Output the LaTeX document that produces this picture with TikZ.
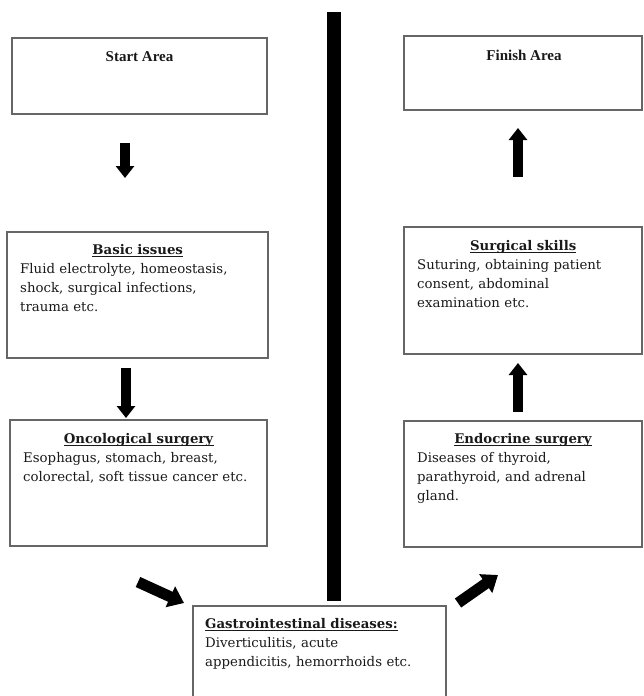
\documentclass[tikz,border=0pt]{standalone}
\usepackage{fontspec}
\setmainfont{DejaVu Serif}
\newfontfamily\timesfont{Liberation Serif}
\usepackage{tikz}
\usetikzlibrary{arrows.meta}
\tikzstyle{areabox}=[draw=black!60, line width=1.3pt, inner sep=0pt]
\tikzstyle{areatitle}=[font=\timesfont\bfseries\fontsize{15}{18}\selectfont, text=black!90]
\tikzstyle{topic}=[anchor=north west, inner sep=0pt, align=left, font=\fontsize{13.3}{19}\selectfont, text=black!90]
\tikzstyle{fatarrow}=[line width=10pt, -{Triangle[length=12pt,width=18pt]}]
\tikzstyle{slantarrow}=[line width=11pt, -{Triangle[length=15pt,width=22pt]}]
\newcommand{\topicline}[1]{\setbox0\hbox{\textbf{#1}}\rlap{\rule[-2pt]{\wd0}{0.8pt}}\box0}
\newcommand{\topichead}[1]{\makebox[\hsize]{\topicline{#1}}}

\begin{document}
\begin{tikzpicture}[x=1pt,y=-1pt]
\useasboundingbox (0,0) rectangle (643,696);
% divider
\fill[black] (327,12) rectangle (341,601);
% boxes
\node[areabox, minimum width=255, minimum height=76] (start) at (139.5,76) {};
\node[areabox, minimum width=238, minimum height=74] (finish) at (523,73) {};
\node[areabox, minimum width=261, minimum height=126] (basic) at (137.5,295) {};
\node[areabox, minimum width=257, minimum height=126] (onco) at (138.5,483) {};
\node[areabox, minimum width=238, minimum height=127] (skills) at (523,290.5) {};
\node[areabox, minimum width=238, minimum height=126] (endo) at (523,484) {};
\node[areabox, minimum width=253, minimum height=98] (gastro) at (319.5,655) {};
% texts
\node[areatitle] (starttext) at (139.5,57) {Start Area};
\node[areatitle] (finishtext) at (524,55) {Finish Area};
\node[topic, text width=235] (basictext) at (20,244) {\topichead{Basic issues}\\
Fluid electrolyte, homeostasis,\\ shock, surgical infections,\\ trauma etc.};
\node[topic, text width=231] (oncotext) at (23,433) {\topichead{Oncological surgery}\\
Esophagus, stomach, breast,\\ colorectal, soft tissue cancer etc.};
\node[topic, text width=212] (skillstext) at (417,240) {\topichead{Surgical skills}\\
Suturing, obtaining patient\\ consent, abdominal\\ examination etc.};
\node[topic, text width=212] (endotext) at (417,433) {\topichead{Endocrine surgery}\\
Diseases of thyroid,\\ parathyroid, and adrenal\\ gland.};
\node[topic, text width=230] (gastrotext) at (205,618) {\topicline{Gastrointestinal diseases:}\\
Diverticulitis, acute\\ appendicitis, hemorrhoids etc.};
% arrows
\coordinate (down1a) at (125,143);
\coordinate (down1b) at (125,178);
\coordinate (down2a) at (126,368);
\coordinate (down2b) at (126,418);
\coordinate (up1a) at (518,412);
\coordinate (up1b) at (518,363);
\coordinate (up2a) at (518,177);
\coordinate (up2b) at (518,128);
\coordinate (inA) at (138,582);
\coordinate (inB) at (184,603);
\coordinate (outA) at (458,603);
\coordinate (outB) at (498,575);
\draw[fatarrow] (down1a) -- (down1b);
\draw[fatarrow] (down2a) -- (down2b);
\draw[fatarrow] (up1a) -- (up1b);
\draw[fatarrow] (up2a) -- (up2b);
\draw[slantarrow] (inA) -- (inB);
\draw[slantarrow] (outA) -- (outB);
\end{tikzpicture}
\end{document}
